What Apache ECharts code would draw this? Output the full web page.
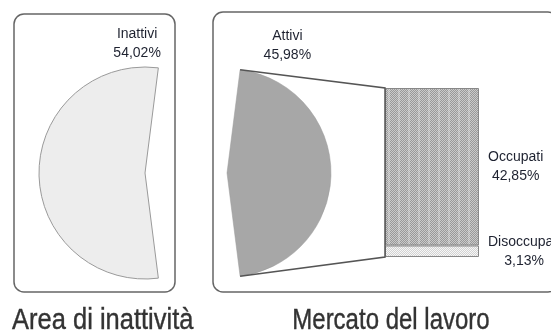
<!DOCTYPE html>
<html>
<head>
<meta charset="utf-8">
<script src="https://cdn.jsdelivr.net/npm/echarts@6/dist/echarts.min.js"></script>
<style>
  html, body { margin: 0; padding: 0; background: #fff; }
  #chart { width: 551px; height: 334px; }
</style>
</head>
<body>
<div id="chart"></div>
<script>
// dati
var pieNames = ['Attivi', 'Inattivi'];
var pieValues = [45.98, 54.02];
var barCategories = ['Attivi'];
var barNames = ['Disoccupati', 'Occupati'];
var barValues = [3.13, 42.85];
var panelTitles = ['Area di inattività', 'Mercato del lavoro'];

var FONT = '"Liberation Sans", Arial, sans-serif';
var total = pieValues[0] + pieValues[1];
var attivi = pieValues[0];
var startAngle = attivi / total * 360 / 2;

function pct(v) { return v.toFixed(2).replace('.', ',') + '%'; }

function tile(w, h, fn) {
    var c = document.createElement('canvas');
    c.width = w; c.height = h;
    var ctx = c.getContext('2d');
    for (var x = 0; x < w; x++) {
        for (var y = 0; y < h; y++) {
            ctx.fillStyle = fn(x, y);
            ctx.fillRect(x, y, 1, 1);
        }
    }
    return c;
}
var occTile = tile(10, 2, function (x, y) {
    var odd = (x + y) % 2;
    if (x >= 8) return odd ? '#b4b4b4' : '#d6d6d6';
    return odd ? '#999999' : '#cacaca';
});
var disTile = tile(2, 2, function (x, y) {
    return (x + y) % 2 ? '#d2d2d2' : '#f7f7f7';
});

var pieL = { center: [145, 173], r: 106 };
var pieR = { center: [227, 173], r: 104 };
var barGrid = { left: 385, top: 88, width: 94, height: 169 };

var chart = echarts.init(document.getElementById('chart'));

var labelRich = { a: { align: 'center', fontFamily: FONT, fontSize: 14, color: '#1e2230', lineHeight: 19 } };

option = {
    animation: false,
    grid: { left: barGrid.left, top: barGrid.top, width: barGrid.width, height: barGrid.height },
    xAxis: { type: 'category', data: barCategories, show: false },
    yAxis: { type: 'value', min: 0, max: attivi, show: false },
    graphic: [
        { type: 'rect', z: 0, shape: { x: 14, y: 14, width: 161, height: 278, r: 10 },
          style: { fill: '#fff', stroke: '#666', lineWidth: 1.5 } },
        { type: 'rect', z: 0, shape: { x: 213, y: 12, width: 345, height: 280, r: 10 },
          style: { fill: '#fff', stroke: '#666', lineWidth: 1.5 } },
        { type: 'text', x: 12, y: 321, scaleX: 0.85, z: 10,
          style: { text: panelTitles[0], font: '30px ' + FONT, fill: '#333', stroke: '#333', lineWidth: 0.4, align: 'left', verticalAlign: 'middle' } },
        { type: 'text', x: 391, y: 321, scaleX: 0.8, z: 10,
          style: { text: panelTitles[1], font: '30px ' + FONT, fill: '#333', stroke: '#333', lineWidth: 0.4, align: 'center', verticalAlign: 'middle' } }
    ],
    series: [
        {
            name: 'Inattività',
            type: 'pie',
            center: pieL.center,
            radius: pieL.r,
            startAngle: startAngle,
            clockwise: true,
            z: 3,
            data: [
                { name: pieNames[0], value: pieValues[0], itemStyle: { color: 'rgba(0,0,0,0)', borderWidth: 0 }, label: { show: false }, silent: true },
                { name: pieNames[1], value: pieValues[1], itemStyle: { color: '#ededed', borderColor: '#9a9a9a', borderWidth: 1 } }
            ],
            label: {
                position: 'inside',
                formatter: function (p) { return '{a|' + p.name + '}\n{a|' + pct(p.value) + '}'; },
                rich: labelRich
            },
            labelLine: { show: false },
            labelLayout: function (p) {
                return { x: p.rect.x + p.rect.width + 2, y: p.rect.y - 23, align: 'right', verticalAlign: 'middle' };
            }
        },
        {
            name: 'Mercato',
            type: 'pie',
            center: pieR.center,
            radius: pieR.r,
            startAngle: startAngle,
            clockwise: true,
            z: 3,
            data: [
                { name: pieNames[0], value: pieValues[0], itemStyle: { color: '#a7a7a7', borderColor: '#9a9a9a', borderWidth: 0.5 } },
                { name: pieNames[1], value: pieValues[1], itemStyle: { color: 'rgba(0,0,0,0)', borderWidth: 0 }, label: { show: false }, silent: true }
            ],
            label: {
                position: 'inside',
                formatter: function (p) { return '{a|' + p.name + '}\n{a|' + pct(p.value) + '}'; },
                rich: labelRich
            },
            labelLine: { show: false },
            labelLayout: function (p) {
                return { x: p.rect.x + p.rect.width * 0.58, y: p.rect.y - 24, align: 'center', verticalAlign: 'middle' };
            }
        },
        {
            name: barNames[0],
            type: 'bar',
            stack: 'attivi',
            barWidth: '100%',
            z: 4,
            data: [barValues[0]],
            itemStyle: { color: { image: disTile, repeat: 'repeat' }, borderColor: '#888', borderWidth: 1 },
            label: {
                show: true, position: 'right', distance: 9,
                formatter: function (p) { return '{a|' + p.seriesName + '}\n{a|' + pct(p.value) + '}'; },
                rich: labelRich
            }
        },
        {
            name: barNames[1],
            type: 'bar',
            stack: 'attivi',
            barWidth: '100%',
            z: 4,
            data: [barValues[1]],
            itemStyle: { color: { image: occTile, repeat: 'repeat' }, borderColor: '#888', borderWidth: 1 },
            label: {
                show: true, position: 'right', distance: 9,
                formatter: function (p) { return '{a|' + p.seriesName + '}\n{a|' + pct(p.value) + '}'; },
                rich: labelRich
            }
        }
    ]
};
chart.setOption(option);

// linee di raccordo tra la fetta "Attivi" e la barra
var a0 = startAngle * Math.PI / 180;
var a1 = (startAngle - attivi / total * 360) * Math.PI / 180;
var topPt = [pieR.center[0] + pieR.r * Math.cos(a0), pieR.center[1] - pieR.r * Math.sin(a0)];
var botPt = [pieR.center[0] + pieR.r * Math.cos(a1), pieR.center[1] - pieR.r * Math.sin(a1)];
var barTop = chart.convertToPixel({ yAxisIndex: 0 }, attivi);
var barBot = chart.convertToPixel({ yAxisIndex: 0 }, 0);
var barLeft = chart.convertToPixel({ xAxisIndex: 0 }, barCategories[0]) - barGrid.width / 2;

chart.setOption({
    graphic: option.graphic.concat([{
        type: 'polyline', z: 5,
        shape: { points: [topPt, [barLeft, barTop], [barLeft, barBot], botPt] },
        style: { fill: null, stroke: '#555', lineWidth: 1.5 }
    }])
});
</script>
</body>
</html>
